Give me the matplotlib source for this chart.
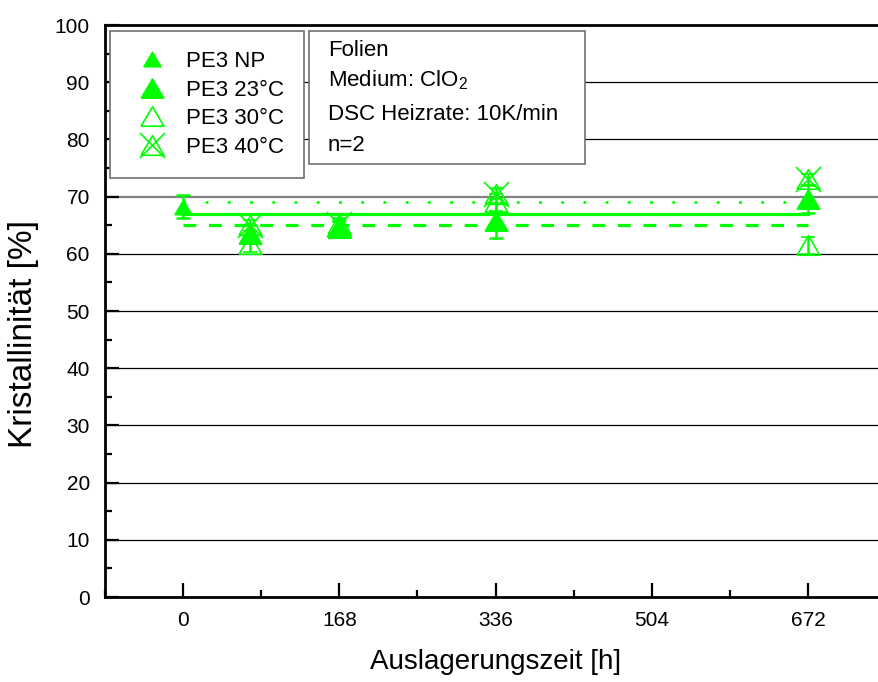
import matplotlib

matplotlib.use("Agg")
import matplotlib.pyplot as plt
from matplotlib.legend_handler import HandlerTuple
from matplotlib.lines import Line2D
from matplotlib.patches import Rectangle
from matplotlib.ticker import MultipleLocator

plt.rcParams["font.family"] = ["Liberation Sans", "DejaVu Sans"]
plt.rcParams["mathtext.fontset"] = "custom"
plt.rcParams["mathtext.rm"] = "Liberation Sans"

GREEN = "#00ff00"

# Kristallinität (DSC) je Auslagerungszeit, Mittelwert und Streuung
t_np = [0]
v_np = [68.2]
e_np = [2.0]

t_23 = [72, 168, 336, 672]
v_23 = [63.5, 64.5, 65.8, 69.6]
e_23 = [1.5, 1.5, 3.0, 2.5]

t_30 = [72, 168, 336, 672]
v_30 = [61.8, 64.5, 69.0, 61.5]
e_30 = [1.5, 1.0, 1.5, 1.5]

t_40 = [72, 168, 336, 672]
v_40 = [65.0, 65.2, 70.5, 73.0]
e_40 = [1.0, 1.0, 1.0, 1.0]

# Mittelwertlinien über den gesamten Zeitraum
mean_span = [0, 672]
mean_23 = 67.0
mean_30 = 65.0
mean_40 = 69.0

x_ticks = [0, 168, 336, 504, 672]

# etwas flacheres Dreieck als das Standard-"^"
TRI = [(-1, -0.85), (1, -0.85), (0, 0.85), (-1, -0.85)]

fig = plt.figure(figsize=(8.79, 6.82), dpi=100)
ax = fig.add_axes([0.1195, 0.1246, 0.8885, 0.8387])

for y in range(10, 100, 10):
    if y == 70:
        ax.axhline(y, color="#808080", lw=1.6, zorder=1)
    else:
        ax.axhline(y, color="black", lw=0.9, zorder=1)

ax.plot(mean_span, [mean_23] * 2, color=GREEN, lw=2.3, ls="-", zorder=2)
ax.plot(mean_span, [mean_30] * 2, color=GREEN, lw=2.3, ls=(0, (4, 4)), zorder=2)
ax.plot(mean_span, [mean_40] * 2, color=GREEN, lw=2.0, ls=(0, (1, 7)), zorder=2)

eb = dict(ecolor=GREEN, elinewidth=1.8, capsize=5, capthick=1.8, ls="none", zorder=3)
ax.errorbar(t_np, v_np, yerr=e_np, marker=TRI, ms=12.5, mfc=GREEN, mec=GREEN, **eb)
ax.errorbar(t_23, v_23, yerr=e_23, marker=TRI, ms=16.5, mfc=GREEN, mec=GREEN, **eb)
ax.errorbar(t_30, v_30, yerr=e_30, marker=TRI, ms=16.5, mfc="none", mec=GREEN, mew=1.2, **eb)
ax.errorbar(t_40, v_40, yerr=e_40, marker=TRI, ms=16.5, mfc="none", mec=GREEN, mew=1.2, **eb)
ax.plot(t_40, v_40, ls="none", marker="x", ms=18, mec=GREEN, mew=1.2, zorder=3)

ax.set_xlim(-84, 756)
ax.set_ylim(0, 100)
ax.set_xticks(x_ticks)
ax.xaxis.set_minor_locator(MultipleLocator(84))
ax.yaxis.set_major_locator(MultipleLocator(10))
ax.yaxis.set_minor_locator(MultipleLocator(5))
ax.tick_params(which="both", direction="in", width=1.6, labelsize=15,
               top=False, right=False)
ax.tick_params(which="major", length=10)
ax.tick_params(which="minor", length=5)
ax.tick_params(axis="x", pad=10)
ax.tick_params(axis="y", pad=11)
for side in ("left", "bottom", "top"):
    ax.spines[side].set_linewidth(2.0)
ax.spines["right"].set_visible(False)

ax.set_xlabel("Auslagerungszeit [h]", fontsize=20, labelpad=14)
ax.set_ylabel("Kristallinität [%]", fontsize=24)
ax.yaxis.set_label_coords(-0.085, 0.46)

h_np = Line2D([], [], ls="none", marker=TRI, ms=12.5, mfc=GREEN, mec=GREEN)
h_23 = Line2D([], [], ls="none", marker=TRI, ms=16.5, mfc=GREEN, mec=GREEN)
h_30 = Line2D([], [], ls="none", marker=TRI, ms=16.5, mfc="none", mec=GREEN, mew=1.2)
h_40x = Line2D([], [], ls="none", marker="x", ms=18, mec=GREEN, mew=1.2)
leg = ax.legend([h_np, h_23, h_30, (h_30, h_40x)],
                ["PE3 NP", "PE3 23°C", "PE3 30°C", "PE3 40°C"],
                handler_map={tuple: HandlerTuple(ndivide=1)},
                loc="upper left", bbox_to_anchor=(0.0064, 0.9895),
                fontsize=16, frameon=True, fancybox=False, edgecolor="#707070",
                borderpad=0.9, labelspacing=0.34, handlelength=2.0,
                handletextpad=0.5, borderaxespad=0, framealpha=1)
leg.get_frame().set_linewidth(1.2)

ax.add_patch(Rectangle((0.261, 0.757), 0.3536, 0.2325, transform=ax.transAxes,
                       fill=True, fc="white", ec="#707070", lw=1.2, zorder=5))
info = ["Folien", r"Medium: ClO$_\mathregular{2}$", "DSC Heizrate: 10K/min", "n=2"]
info_y = [0.956, 0.904, 0.843, 0.790]
for line, y in zip(info, info_y):
    ax.text(0.2855, y, line, transform=ax.transAxes,
            fontsize=16, va="center", ha="left", zorder=6)

fig.savefig("out.png", dpi=100)
